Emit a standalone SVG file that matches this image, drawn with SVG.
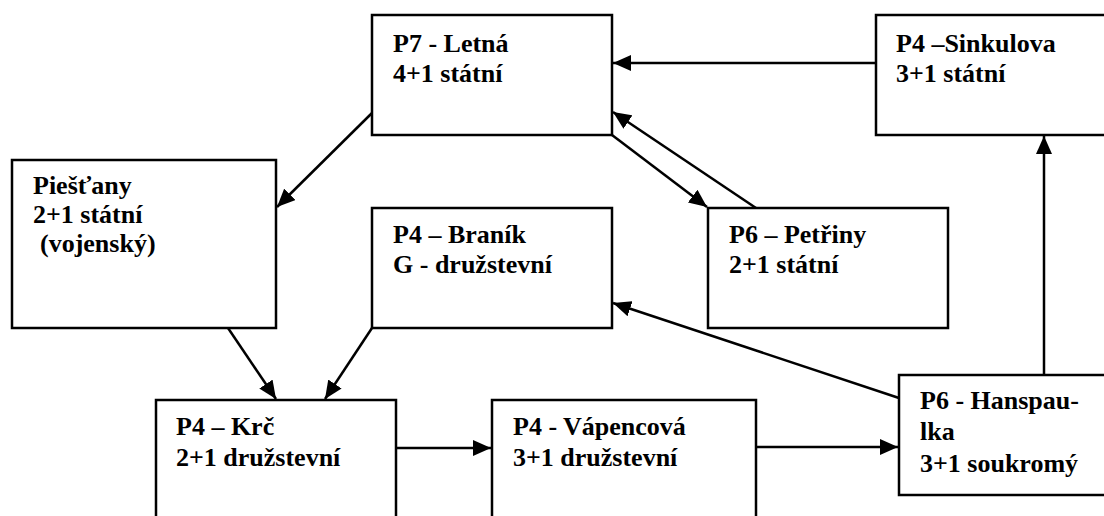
<svg xmlns="http://www.w3.org/2000/svg" width="1104" height="516" viewBox="0 0 1104 516">
<style>
.box{fill:#fff;stroke:#000;stroke-width:2.5}
.c{fill:none;stroke:#000;stroke-width:2.5;marker-end:url(#ah)}
</style>
<defs>
<marker id="ah" markerUnits="userSpaceOnUse" markerWidth="20" markerHeight="16" refX="18" refY="8" orient="auto">
<path d="M0,0 L18,8 L0,16 Z" fill="#000"/>
</marker>
</defs>
<rect width="1104" height="516" fill="#fff"/>
<g font-family="Liberation Serif, Times New Roman, DejaVu Serif, serif" font-weight="bold" font-size="26" fill="#000">
<g id="n-letna"><rect class="box" x="372" y="15" width="240" height="120"/><text x="393" y="52">P7 - Letná</text><text x="393" y="82">4+1 státní</text></g>
<g id="n-sinkulova"><rect class="box" x="876" y="15" width="240" height="120"/><text x="896" y="52">P4 –Sinkulova</text><text x="896" y="82">3+1 státní</text></g>
<g id="n-piestany"><rect class="box" x="12" y="160" width="264" height="168"/><text x="33" y="194">Piešťany</text><text x="33" y="223">2+1 státní</text><text x="40" y="252">(vojenský)</text></g>
<g id="n-branik"><rect class="box" x="372" y="208" width="240" height="120"/><text x="393" y="243">P4 – Braník</text><text x="393" y="273">G - družstevní</text></g>
<g id="n-petriny"><rect class="box" x="708" y="208" width="240" height="120"/><text x="729" y="243">P6 – Petřiny</text><text x="729" y="273">2+1 státní</text></g>
<g id="n-krc"><rect class="box" x="156" y="400" width="240" height="140"/><text x="176" y="435">P4 – Krč</text><text x="176" y="466">2+1 družstevní</text></g>
<g id="n-vapencova"><rect class="box" x="492" y="400" width="264" height="140"/><text x="513" y="435">P4 - Vápencová</text><text x="513" y="466">3+1 družstevní</text></g>
<g id="n-hanspaulka"><rect class="box" x="899" y="375" width="220" height="120"/><text x="920" y="409">P6 - Hanspau-</text><text x="920" y="440">lka</text><text x="920" y="472">3+1 soukromý</text></g>
</g>
<g id="connectors">
<line class="c" x1="876" y1="63" x2="613" y2="63"/>
<line class="c" x1="372" y1="113" x2="277" y2="207"/>
<line class="c" x1="612" y1="135" x2="707" y2="207"/>
<line class="c" x1="756" y1="208" x2="613" y2="112"/>
<line class="c" x1="899" y1="398" x2="613" y2="303"/>
<line class="c" x1="1044" y1="375" x2="1044" y2="136"/>
<line class="c" x1="228" y1="328" x2="276" y2="399"/>
<line class="c" x1="372" y1="328" x2="325" y2="399"/>
<line class="c" x1="396" y1="448" x2="491" y2="448"/>
<line class="c" x1="756" y1="447" x2="898" y2="447"/>
</g>
</svg>
